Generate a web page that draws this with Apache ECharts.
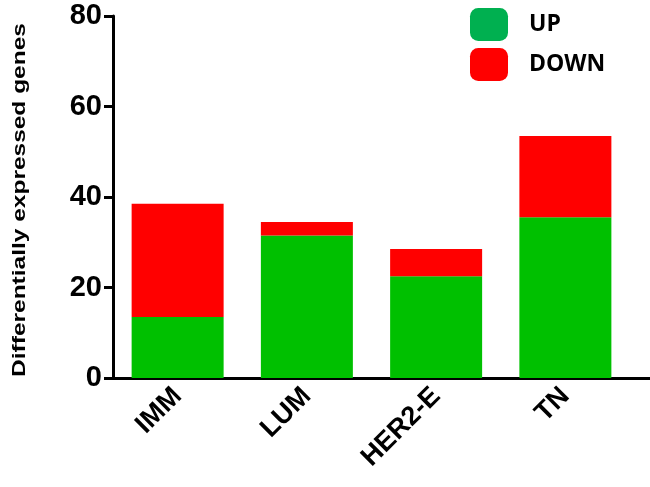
<!DOCTYPE html>
<html><head><meta charset="utf-8">
<script src="https://cdn.jsdelivr.net/npm/echarts@6/dist/echarts.min.js"></script>
<style>html,body{margin:0;padding:0;background:#fff}#c{width:650px;height:487px}</style>
</head><body><div id="c"></div>
<script>
const categories = ['IMM', 'LUM', 'HER2-E', 'TN'];
const upValues = [13.5, 31.5, 22.5, 35.5];
const downValues = [25, 3, 6, 18];
const yTicks = [0, 20, 40, 60, 80];
const yTitle = 'Differentially expressed genes';

const chart = echarts.init(document.getElementById('c'));
chart.setOption({
  animation: false,
  grid: { left: 113, right: 20, top: 16, bottom: 109, outerBoundsMode: 'none' },
  legend: {
    left: 470, top: 8, padding: 0, orient: 'vertical', itemWidth: 38, itemHeight: 33, itemGap: 7,
    icon: 'roundRect', selectedMode: false,
    textStyle: { fontFamily: 'Open Sans', fontWeight: 'bold', fontSize: 23, color: '#000', padding: [0, 0, 0, 16] },
    data: [
      { name: 'UP', itemStyle: { color: '#00B050' } },
      { name: 'DOWN', itemStyle: { color: '#FF0000' } }
    ]
  },
  xAxis: {
    type: 'category', data: categories,
    axisLine: { lineStyle: { color: '#000', width: 3 } },
    axisTick: { alignWithLabel: true, length: 9, lineStyle: { color: '#000', width: 3 } },
    axisLabel: { rotate: 45, margin: 14, fontFamily: 'Liberation Sans', fontWeight: 'bold', fontSize: 27, color: '#000' }
  },
  yAxis: {
    type: 'value', min: 0, max: 80, interval: 20,
    splitLine: { show: false },
    axisLine: { show: true, lineStyle: { color: '#000', width: 3 } },
    axisTick: { show: true, length: 9, lineStyle: { color: '#000', width: 3 } },
    axisLabel: { margin: 11, fontFamily: 'Liberation Sans', fontWeight: 'bold', fontSize: 29, color: '#000',
      formatter: v => yTicks.includes(v) ? String(v) : '' }
  },
  series: [
    { name: 'UP', type: 'bar', stack: 's', data: upValues, barWidth: 92, itemStyle: { color: '#00C000' } },
    { name: 'DOWN', type: 'bar', stack: 's', data: downValues, barWidth: 92, itemStyle: { color: '#FF0000' } }
  ],
  graphic: [
    { type: 'line', z: 10, shape: { x1: 612, y1: 378.5, x2: 650, y2: 378.5 }, style: { stroke: '#000', lineWidth: 3 } },
    { type: 'text', x: 20, y: 200, rotation: Math.PI / 2, scaleX: 1.36,
      style: { text: yTitle, font: 'bold 18px "Liberation Sans"', fill: '#000', align: 'center', verticalAlign: 'middle' } }
  ]
});
</script></body></html>
